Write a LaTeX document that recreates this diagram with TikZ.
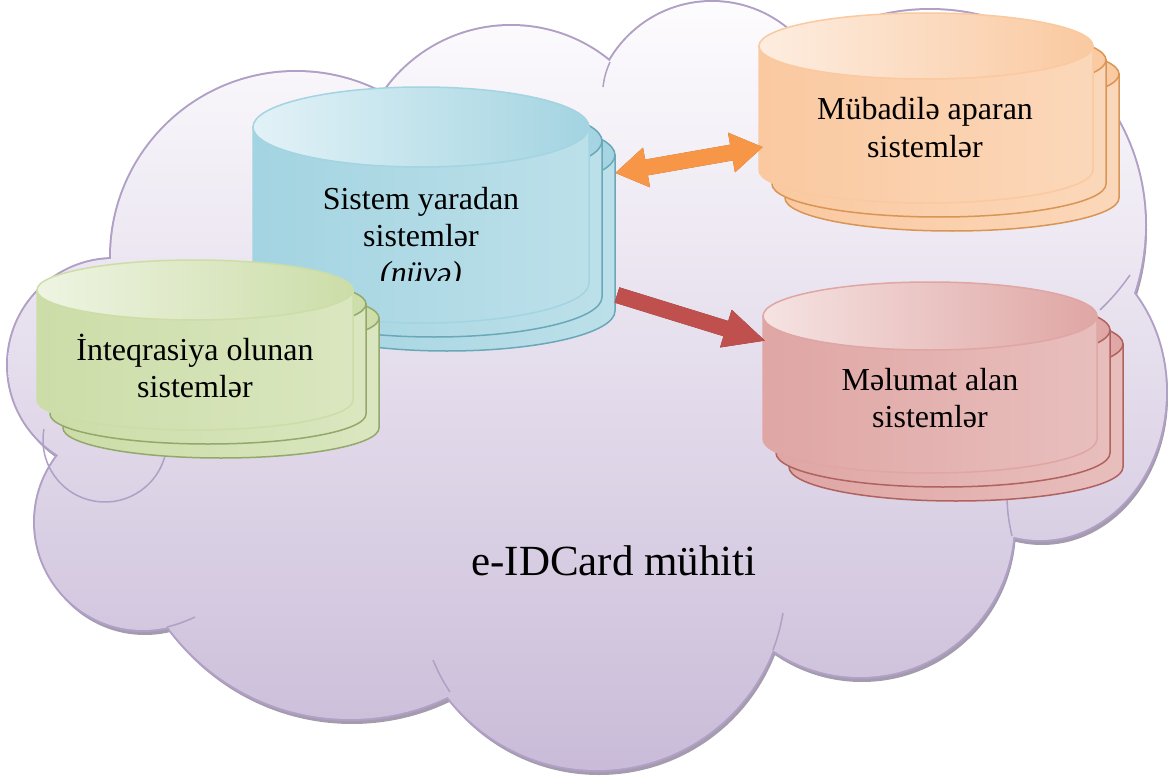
\documentclass[tikz,border=0pt]{standalone}
\usepackage{fontspec}
\IfFontExistsTF{LiberationSerif-Regular.ttf}{%
  \setmainfont{LiberationSerif}[Extension=.ttf, UprightFont=*-Regular,
    BoldFont=*-Bold, ItalicFont=*-Italic, BoldItalicFont=*-BoldItalic]}{%
  \setmainfont{Liberation Serif}}
\usetikzlibrary{arrows.meta}
\definecolor{coreLight}{HTML}{E2F2F7}
\definecolor{coreDark}{HTML}{A3D4E1}
\definecolor{coreEdge}{HTML}{6AA8B8}
\definecolor{integLight}{HTML}{EEF4E2}
\definecolor{integDark}{HTML}{CCDDA8}
\definecolor{integEdge}{HTML}{93A86A}
\definecolor{exchLight}{HTML}{FDEDE0}
\definecolor{exchDark}{HTML}{FAC9A0}
\definecolor{exchEdge}{HTML}{D99555}
\definecolor{recvLight}{HTML}{F5E3E2}
\definecolor{recvDark}{HTML}{DFA6A4}
\definecolor{recvEdge}{HTML}{B0625F}
\definecolor{cloudTop}{HTML}{FDFCFE}
\definecolor{cloudBottom}{HTML}{C9BBD8}
\definecolor{cloudEdge}{HTML}{B1A0C6}
\definecolor{cloudShadow}{HTML}{A49CAE}
\definecolor{xarrow}{HTML}{F79646}
\definecolor{xarrowDark}{HTML}{A9560F}
\definecolor{rarrow}{HTML}{C0504D}
\definecolor{rarrowDark}{HTML}{6E2422}
\tikzset{
  lbl/.style= {align=center, inner sep=0, anchor=base, font=\fontsize{32}{37}\selectfont},
  title/.style= {inner sep=0, anchor=base, font=\fontsize{43}{50}\selectfont},
  cloudline/.style= {draw=cloudEdge, line width=1.5},
  blockarrow/.style= {line width=16},
}
% stack of three cylinders: cx, cy, rx, ry, height, light, dark, edge
\newcommand{\dbstack}[8]{%
  \foreach \k in {2,1,0}{
    \ifnum\k=0 \def\rim{#7}\else\def\rim{#8}\fi
    \begin{scope}[shift={(13*\k,14*\k)}]
      \shade[left color=#7, middle color=#6, right color=#7!60!#6, draw=\rim, line width=1.5]
        (#1-#3,#2) -- (#1-#3,#2+#5)
        arc[start angle=180, end angle=0, x radius=#3, y radius=#4]
        -- (#1+#3,#2) -- cycle;
      \shade[left color=#6, right color=#7, draw=\rim, line width=1.5]
        (#1,#2) ellipse[x radius=#3, y radius=#4];
    \end{scope}
  }
}
\newcommand{\cloudlobes}{(296,257) circle[radius=185] (511,181) circle[radius=155]
  (712,120) circle[radius=118] (930,225) circle[radius=215]
  (1040,392) ellipse[x radius=126, y radius=148] (860,523) circle[radius=154]
  (597,581) circle[radius=189] (350,493) circle[radius=226]
  (143,522) circle[radius=108] (114,365) circle[radius=106]
  (600,400) ellipse[x radius=420, y radius=260]}

\begin{document}
\begin{tikzpicture}[x=1pt, y=-1pt]
  \useasboundingbox (0,0) rectangle (1168,776);
  % cloud
  \fill[cloudShadow, shift={(2,5)}] \cloudlobes;
  \draw[draw=cloudEdge, line width=4] \cloudlobes;
  \begin{scope}
    \clip \cloudlobes;
    \shade[top color=cloudTop, bottom color=cloudBottom] (0,0) rectangle (1168,776);
  \end{scope}
  \draw[cloudline] (610,62) to[bend right=8] (603,87);
  \draw[cloudline] (1130,275) to[bend left=5] (1100,310);
  \draw[cloudline] (1012,536) to[bend left=5] (1007,500);
  \draw[cloudline] (773,650) to[bend right=5] (783,613);
  \draw[cloudline] (450,692) to[bend left=5] (433,660);
  \draw[cloudline] (167,627) to[bend right=5] (195,617);
  \draw[cloudline] (105,440) ++(190:62) arc[start angle=190, end angle=-20, radius=62];

  % systems
  \dbstack{421}{127}{168}{40}{156}{coreLight}{coreDark}{coreEdge}
  \dbstack{195}{290}{158}{30}{110}{integLight}{integDark}{integEdge}
  \dbstack{926}{46}{167}{33}{124}{exchLight}{exchDark}{exchEdge}
  \dbstack{930}{316}{167}{34}{123}{recvLight}{recvDark}{recvEdge}

  \begin{scope}
    \clip (250,170) rectangle (600,280);
    \node [lbl] (core) at (421,283) {Sistem yaradan\\sistemlər\\\textit{(nüvə)}};
  \end{scope}
  \node [lbl] (integ) at (195,397) {İnteqrasiya olunan\\sistemlər};
  \node [lbl] (exch) at (925,157) {Mübadilə aparan\\sistemlər};
  \node [lbl] (recv) at (930,427) {Məlumat alan\\sistemlər};
  \node [title] (env) at (614,575) {e-IDCard mühiti};

  % arrows
  \coordinate (core-e1) at (615,173);
  \coordinate (exch-w) at (763,147);
  \coordinate (core-e2) at (617,295);
  \coordinate (recv-w) at (766,341);
  \draw[blockarrow, xarrowDark, shift={(2,5)}, {Triangle[length=32pt,width=38pt]}-{Triangle[length=32pt,width=38pt]}] (core-e1) -- (exch-w);
  \draw[blockarrow, xarrow, {Triangle[length=32pt,width=38pt]}-{Triangle[length=32pt,width=38pt]}] (core-e1) -- (exch-w);
  \draw[blockarrow, rarrowDark, shift={(1,5)}, -{Triangle[length=42pt,width=36pt]}] (core-e2) -- (recv-w);
  \draw[blockarrow, rarrow, -{Triangle[length=42pt,width=36pt]}] (core-e2) -- (recv-w);
\end{tikzpicture}
\end{document}
